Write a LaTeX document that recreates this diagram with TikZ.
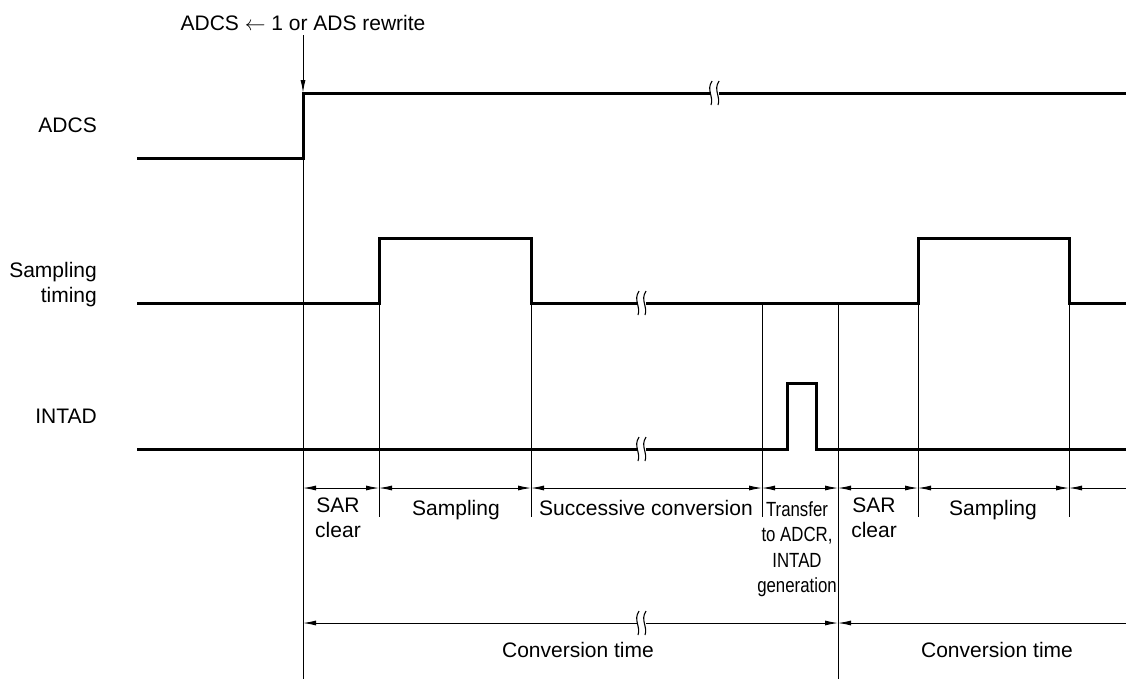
\documentclass[tikz,border=0pt]{standalone}
\usepackage{fontspec}
\setmainfont{Liberation Sans}
\newfontfamily\narrowfont[FakeStretch=0.82]{Liberation Sans}
\usetikzlibrary{arrows.meta}

% wavy break mark on a line, centred at (#1,#2)
\newcommand{\wavebreak}[2]{%
  \fill[white] (#1-4,#2-8) rectangle (#1+4,#2+8);
  \draw[brk] (#1-3,#2-12) .. controls (#1-9,#2-3) and (#1-1,#2+4) .. (#1-4,#2+12);
  \draw[brk] (#1+4,#2-12) .. controls (#1-2,#2-3) and (#1+6,#2+4) .. (#1+3,#2+12);
}

\begin{document}
\begin{tikzpicture}[
  x=1pt, y=-1pt,
  signal/.style={line width=3pt, line join=miter},
  guide/.style={line width=1pt},
  brk/.style={line width=1.1pt},
  dim/.style={line width=0.9pt, {Latex[length=13pt,width=5pt]}-{Latex[length=13pt,width=5pt]}},
  ldim/.style={line width=0.9pt, {Latex[length=13pt,width=5pt]}-},
  lbl/.style={inner sep=0pt, font=\fontsize{21}{25}\selectfont, align=center},
  sig/.style={lbl, align=right},
  narrow/.style={inner sep=0pt, font=\narrowfont\fontsize{20.5}{25.5}\selectfont, align=center}
]
\useasboundingbox (0,0) rectangle (1126,681);

% signal names
\node[sig, anchor=base east] (adcs) at (97,132) {ADCS};
\node[sig, anchor=north east] (samp) at (97,262) {Sampling\\timing};
\node[sig, anchor=base east] (intad) at (97,423) {INTAD};

% trigger
\node[lbl, anchor=base] (trig) at (303,30) {ADCS $\leftarrow$ 1 or ADS rewrite};
\draw[guide, -{Latex[length=13pt,width=5pt]}] (303,35) -- (303,93);

% guide lines
\draw[guide] (303,93) -- (303,679);
\draw[guide] (379,238) -- (379,517);
\draw[guide] (531,238) -- (531,517);
\draw[guide] (762,303) -- (762,517);
\draw[guide] (838,303) -- (838,679);
\draw[guide] (918,238) -- (918,517);
\draw[guide] (1069,238) -- (1069,517);

% waveforms
\draw[signal] (137,158) -- (303,158) -- (303,93) -- (1126,93);
\draw[signal] (137,303) -- (379,303) -- (379,238) -- (531,238) -- (531,303)
  -- (918,303) -- (918,238) -- (1069,238) -- (1069,303) -- (1126,303);
\draw[signal] (137,449) -- (787,449) -- (787,383) -- (816,383) -- (816,449) -- (1126,449);

% intervals
\draw[dim] (303,488) -- (379,488);
\draw[dim] (379,488) -- (531,488);
\draw[dim] (531,488) -- (762,488);
\draw[dim] (762,488) -- (838,488);
\draw[dim] (838,488) -- (918,488);
\draw[dim] (918,488) -- (1069,488);
\draw[ldim] (1069,488) -- (1126,488);
\draw[dim] (303,623) -- (838,623);
\draw[ldim] (838,623) -- (1126,623);

% breaks
\wavebreak{715}{93}
\wavebreak{642}{303}
\wavebreak{642}{449}
\wavebreak{642}{623}

% interval labels
\node[lbl, anchor=north] (sar1) at (338,498) {SAR\\clear};
\node[lbl, anchor=base] (smp1) at (456,515) {Sampling};
\node[lbl, anchor=base] (succ) at (646,515) {Successive conversion};
\node[narrow, anchor=north] (xfer) at (797,501) {Transfer\\to ADCR,\\INTAD\\generation};
\node[lbl, anchor=north] (sar2) at (874,498) {SAR\\clear};
\node[lbl, anchor=base] (smp2) at (993,515) {Sampling};
\node[lbl, anchor=base] (ct1) at (578,657) {Conversion time};
\node[lbl, anchor=base] (ct2) at (997,657) {Conversion time};
\end{tikzpicture}
\end{document}
